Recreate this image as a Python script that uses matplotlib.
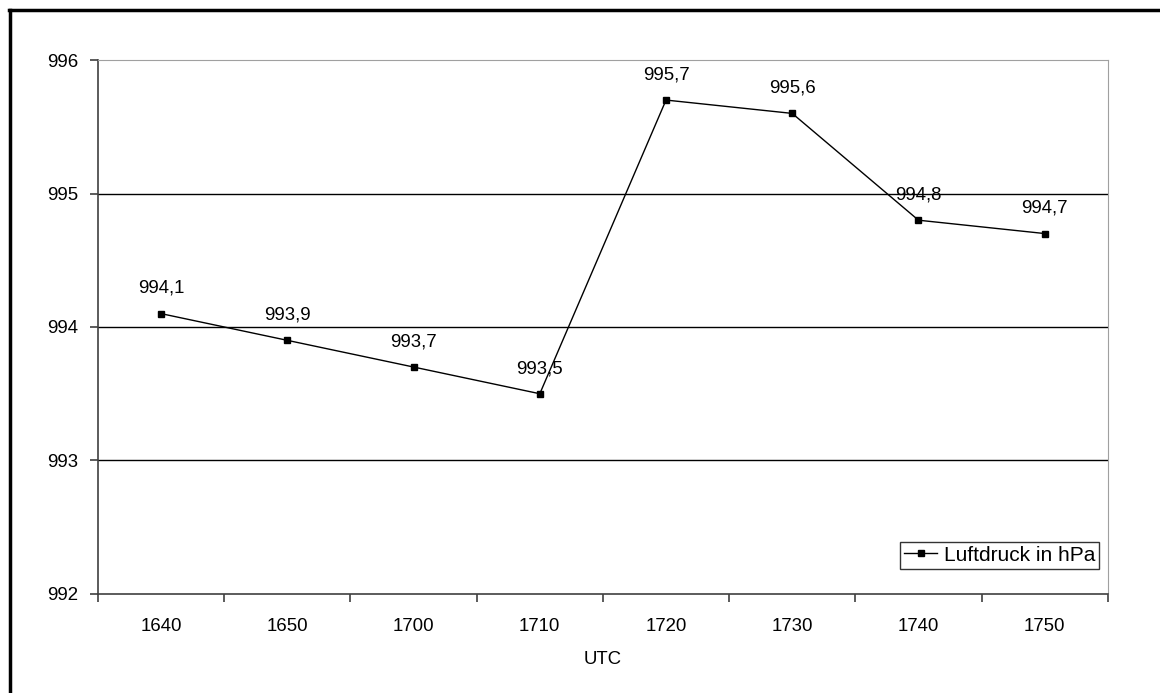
import numpy as np
import matplotlib.pyplot as plt
from matplotlib.lines import Line2D

plt.rcParams['font.family'] = ['Liberation Sans', 'DejaVu Sans']

# Luftdruck readings every 10 minutes
times = ['1640', '1650', '1700', '1710', '1720', '1730', '1740', '1750']
pressure = [994.1, 993.9, 993.7, 993.5, 995.7, 995.6, 994.8, 994.7]
yticks = [992, 993, 994, 995, 996]

fs = 13.4

fig = plt.figure(figsize=(11.6, 6.93), dpi=100)
ax = fig.add_axes([0.0845, 0.1429, 0.8705, 0.7705])

x = np.arange(len(times))
ax.plot(x, pressure, color='black', lw=1, marker='s', ms=5,
        label='Luftdruck in hPa')

for xi, v in zip(x, pressure):
    ax.annotate(f'{v:.1f}'.replace('.', ','), (xi, v), xytext=(0, 12),
                textcoords='offset points', ha='center', va='bottom',
                fontsize=fs)

ax.set_xlim(-0.5, len(times) - 0.5)
ax.set_ylim(992, 996)
ax.set_yticks(yticks)
ax.set_yticklabels([str(t) for t in yticks], fontsize=fs)

# category labels centred, tick marks on the boundaries
ax.set_xticks(x)
ax.set_xticklabels(times, fontsize=fs)
ax.tick_params(axis='x', which='major', length=0, pad=17)
ax.set_xticks(np.arange(-0.5, len(times)), minor=True)
ax.tick_params(axis='x', which='minor', length=6, direction='out',
               color='#404040', width=1.2)
ax.tick_params(axis='y', length=6, color='#404040', width=1.2, pad=8)

for yv in yticks[1:-1]:
    ax.axhline(yv, color='black', lw=1, zorder=0)

ax.spines['left'].set_color('#404040')
ax.spines['bottom'].set_color('#404040')
ax.spines['left'].set_linewidth(1.2)
ax.spines['bottom'].set_linewidth(1.2)
ax.spines['top'].set_color('#a0a0a0')
ax.spines['right'].set_color('#a0a0a0')

ax.set_xlabel('UTC', fontsize=fs, labelpad=12)

leg = ax.legend(loc='lower right', bbox_to_anchor=(0.9915, 0.047),
                fontsize=15, frameon=True, fancybox=False,
                handlelength=1.6, handletextpad=0.3, borderpad=0.2,
                borderaxespad=0)
leg.get_frame().set_edgecolor('black')
leg.get_frame().set_linewidth(1)

# outer chart frame (left and top edges)
fig.add_artist(Line2D([0.0085, 0.0085], [0, 0.985], color='black', lw=2.5,
                      transform=fig.transFigure))
fig.add_artist(Line2D([0.0075, 1.0], [0.985, 0.985], color='black', lw=2.5,
                      transform=fig.transFigure))

fig.savefig('out.png', dpi=100)
